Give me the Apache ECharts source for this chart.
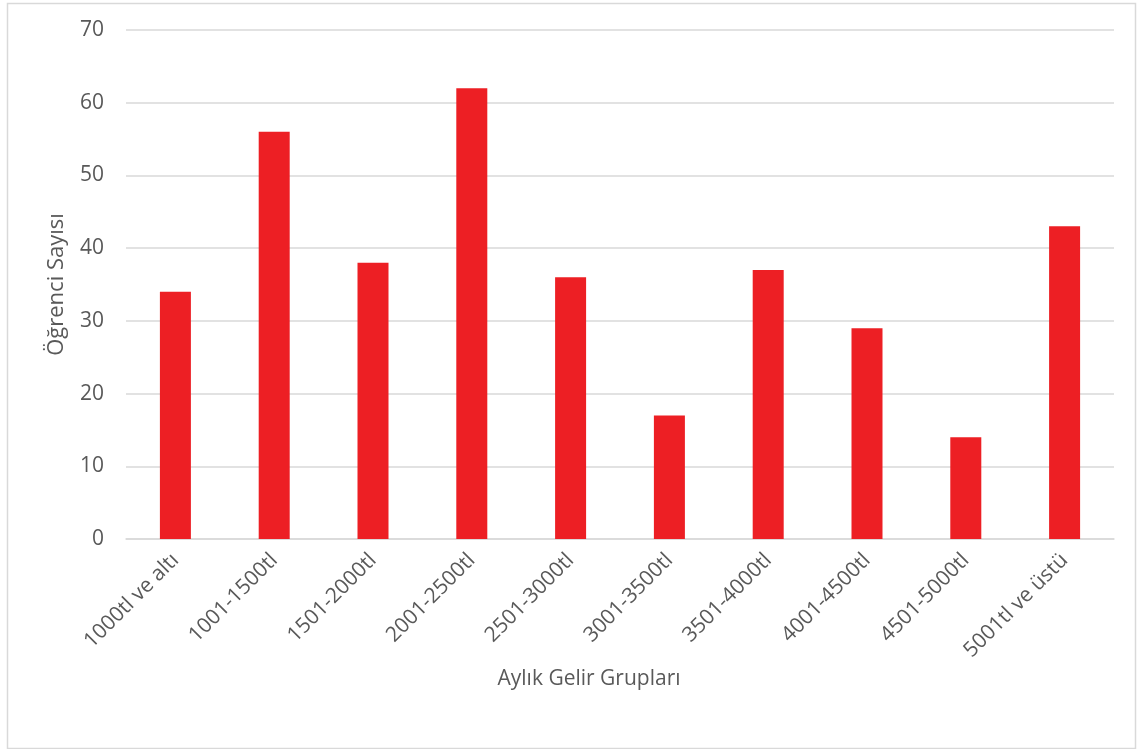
<!DOCTYPE html>
<html>
<head>
<meta charset="utf-8">
<style>
  html, body { margin: 0; padding: 0; background: #fff; }
  #chart { width: 1139px; height: 749px; }
</style>
<script src="https://cdn.jsdelivr.net/npm/echarts@6/dist/echarts.min.js"></script>
</head>
<body>
<div id="chart"></div>
<script>
// Income groups and student counts
const categories = ['1000tl ve altı', '1001-1500tl', '1501-2000tl', '2001-2500tl', '2501-3000tl',
  '3001-3500tl', '3501-4000tl', '4001-4500tl', '4501-5000tl', '5001tl ve üstü'];
const studentCounts = [34, 56, 38, 62, 36, 17, 37, 29, 14, 43];
const yTicks = { min: 0, max: 70, interval: 10 };

const fontFamily = '"Open Sans", "Liberation Sans", sans-serif';
const textColor = '#595959';

const chart = echarts.init(document.getElementById('chart'), null, { renderer: 'canvas' });
chart.setOption({
  animation: false,
  backgroundColor: '#fff',
  graphic: [{
    type: 'rect',
    left: 5, top: 1,
    shape: { width: 1128, height: 745 },
    style: { fill: 'none', stroke: '#d9d9d9', lineWidth: 1.5 },
    silent: true
  }],
  grid: { left: 126, right: 25, top: 30, bottom: 210, containLabel: false },
  xAxis: {
    type: 'category',
    data: categories,
    name: 'Aylık Gelir Grupları',
    nameLocation: 'middle',
    nameGap: 128,
    nameTextStyle: { color: textColor, fontSize: 21, fontFamily, padding: [0, 62, 0, 0] },
    axisLine: { lineStyle: { color: '#d9d9d9', width: 1.5 } },
    axisTick: { show: false },
    axisLabel: { rotate: 45, color: textColor, fontSize: 21, fontFamily, margin: 18, interval: 0 }
  },
  yAxis: {
    type: 'value',
    min: yTicks.min, max: yTicks.max, interval: yTicks.interval,
    name: 'Öğrenci Sayısı',
    nameLocation: 'middle',
    nameGap: 58,
    nameTextStyle: { color: textColor, fontSize: 22, fontFamily },
    axisLine: { show: false },
    axisTick: { show: false },
    axisLabel: { color: textColor, fontSize: 21, fontFamily, margin: 22 },
    splitLine: { lineStyle: { color: '#d9d9d9', width: 1.5 } }
  },
  series: [{
    type: 'bar',
    data: studentCounts,
    barWidth: 31,
    itemStyle: { color: '#ed1f24' }
  }]
});
</script>
</body>
</html>
